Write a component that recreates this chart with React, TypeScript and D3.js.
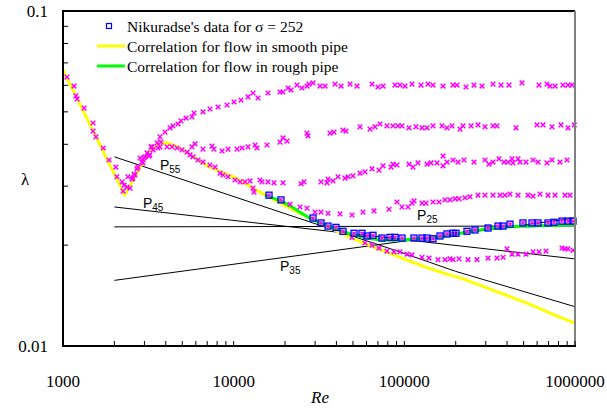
import React from "react";
import * as d3 from "d3";

type Pt = [number, number];

// Nikuradse data (Re, lambda)
const LAMINAR_TRANSITION: Pt[] = [
  [1055, 0.0635], [1160, 0.0597], [1190, 0.0558], [1210, 0.0546], [1330, 0.0513],
  [1500, 0.0463], [1500, 0.0438], [1560, 0.0421], [1720, 0.039], [1860, 0.0359],
  [2040, 0.0342], [2070, 0.032], [2220, 0.0309], [2250, 0.029], [2280, 0.0302],
  [2370, 0.0298], [2400, 0.032], [2470, 0.0296], [2540, 0.0315], [2570, 0.0317],
  [2610, 0.0326], [2640, 0.0324], [2710, 0.0338], [2750, 0.0342], [2830, 0.0364],
  [2900, 0.0354], [2940, 0.0352], [2980, 0.0364], [3020, 0.0367], [3110, 0.0377],
  [3190, 0.0369], [3230, 0.0372], [3280, 0.0393], [3320, 0.0393], [3370, 0.0385],
  [3560, 0.0404], [3600, 0.039], [3700, 0.0393], [3750, 0.0406], [4070, 0.0393],
  [4350, 0.0393], [4660, 0.039], [4980, 0.0385], [5330, 0.0379], [5550, 0.0372],
  [5780, 0.0367], [6180, 0.0359], [6610, 0.0354], [7270, 0.0347], [7780, 0.0342],
  [8320, 0.0328], [8660, 0.0324], [9270, 0.032], [10180, 0.0313], [10900, 0.0309],
  [11650, 0.0309], [12470, 0.0311], [12980, 0.0296], [13160, 0.0288], [14660, 0.0309],
];

const SERIES_15: Pt[] = [
  [3700, 0.0421], [3960, 0.0435], [4240, 0.0448], [4410, 0.0454], [4720, 0.046],
  [4910, 0.047], [5260, 0.0479], [5700, 0.0483], [5860, 0.0496], [6610, 0.05],
  [7270, 0.051], [8100, 0.0517], [9140, 0.0524], [10050, 0.0535], [11040, 0.0542],
  [12130, 0.0554], [12980, 0.0569], [13890, 0.055], [15890, 0.0569], [18690, 0.0573],
  [19450, 0.0573], [20820, 0.0589], [21670, 0.0581], [23500, 0.0601], [25140, 0.0589],
  [26900, 0.0597], [27640, 0.0605], [29170, 0.061], [32060, 0.0597], [34290, 0.0597],
  [39240, 0.0605], [42550, 0.0597], [48050, 0.0605], [52800, 0.0597], [64650, 0.0605],
  [70100, 0.0593], [74990, 0.0597], [88170, 0.0601], [94320, 0.0601], [100900, 0.0597],
  [110900, 0.0605], [125200, 0.0601], [137600, 0.0605], [147200, 0.0601], [168500, 0.0597],
  [192800, 0.0601], [203500, 0.0601], [229800, 0.0593], [256000, 0.0601], [285100, 0.0597],
  [330800, 0.0605], [368600, 0.0601], [410500, 0.0601], [489100, 0.061], [615300, 0.0601],
  [685400, 0.0605], [713800, 0.0597], [763600, 0.0597], [850500, 0.0601], [909900, 0.0601],
  [960300, 0.0601],
];

const SERIES_30: Pt[] = [
  [5700, 0.0393], [5940, 0.0401], [6610, 0.0387], [7460, 0.0395], [7670, 0.0387],
  [8550, 0.0382], [9270, 0.0387], [10460, 0.0387], [11190, 0.039], [12130, 0.0393],
  [13340, 0.0398], [13700, 0.039], [15680, 0.0398], [18690, 0.0406], [19450, 0.0418],
  [20540, 0.0409], [26900, 0.0432], [27270, 0.0424], [36680, 0.0432], [38710, 0.0435],
  [43710, 0.0441], [45520, 0.0438], [55000, 0.0451], [62930, 0.0444], [67320, 0.0451],
  [72010, 0.046], [79150, 0.0454], [85810, 0.0454], [91810, 0.0454], [96890, 0.0454],
  [106500, 0.0448], [117000, 0.0451], [126900, 0.0448], [135800, 0.0448], [147200, 0.0454],
  [166200, 0.0454], [177800, 0.0448], [190200, 0.0454], [211900, 0.0444], [220700, 0.0454],
  [245900, 0.0454], [270200, 0.0457], [296900, 0.0451], [330800, 0.0454], [349100, 0.0454],
  [451100, 0.0448], [598900, 0.0457], [649400, 0.0457], [733300, 0.0451], [827900, 0.0457],
  [909900, 0.0448], [990000, 0.0457],
];

const SERIES_60: Pt[] = [
  [14270, 0.0313], [15890, 0.0309], [17230, 0.0307], [19450, 0.0307], [24800, 0.0305],
  [25830, 0.0309], [32490, 0.0309], [35230, 0.0307], [35710, 0.0315], [38190, 0.0311],
  [40860, 0.032], [44910, 0.0317], [46770, 0.032], [50030, 0.0322], [55000, 0.0328],
  [58820, 0.0331], [64650, 0.0338], [71050, 0.0335], [74990, 0.0345], [83540, 0.0342],
  [85810, 0.0349], [90570, 0.0347], [106500, 0.0349], [112400, 0.0342], [120200, 0.0352],
  [135800, 0.0349], [143300, 0.0352], [155400, 0.0352], [168500, 0.0369], [168500, 0.0345],
  [177800, 0.0354], [192800, 0.0359], [206300, 0.0354], [223700, 0.0359], [256000, 0.0354],
  [296900, 0.0359], [313400, 0.0349], [330800, 0.0354], [358700, 0.0362], [383700, 0.0354],
  [405000, 0.0354], [427400, 0.0362], [433200, 0.0352], [463400, 0.0362], [476100, 0.0354],
  [516200, 0.0354], [567400, 0.0359], [607100, 0.0354], [685400, 0.0352], [733300, 0.0359],
  [816900, 0.0354], [897600, 0.0359],
];

const SERIES_126: Pt[] = [
  [21380, 0.0265], [24470, 0.026], [26900, 0.0258], [29970, 0.0251], [32490, 0.0251],
  [35710, 0.0249], [41980, 0.0248], [49360, 0.0246], [57260, 0.0251], [66420, 0.0253],
  [81310, 0.0256], [90570, 0.0269], [96890, 0.026], [105100, 0.026], [110900, 0.0267],
  [113900, 0.0271], [126900, 0.0267], [134000, 0.0267], [147200, 0.0269], [159600, 0.0269],
  [173100, 0.0273], [185100, 0.0273], [198100, 0.0275], [209100, 0.0275], [226700, 0.0277],
  [242500, 0.0279], [270200, 0.0282], [296900, 0.0282], [330800, 0.0282], [363600, 0.0282],
  [388900, 0.0282], [416100, 0.0284], [463400, 0.0282], [530300, 0.0282], [567400, 0.028],
  [623700, 0.0284], [694700, 0.0282], [763600, 0.0282], [873700, 0.0282], [934800, 0.0282],
];

const SERIES_252: Pt[] = [
  [16110, 0.0282], [18940, 0.0273], [29170, 0.0241], [32490, 0.0233], [35710, 0.0228],
  [39770, 0.0226], [43710, 0.022], [50710, 0.0217], [56490, 0.0217], [60430, 0.0213],
  [65530, 0.0214], [73970, 0.021], [82410, 0.0211], [88170, 0.0211], [96890, 0.021],
  [113900, 0.021], [126900, 0.021], [135800, 0.021], [147200, 0.0209], [161800, 0.0213],
  [177800, 0.0216], [192800, 0.0217], [200800, 0.0217], [232900, 0.022], [259400, 0.0222],
  [309200, 0.0225], [353900, 0.0228], [378600, 0.0228], [416100, 0.0231], [495700, 0.0233],
  [559800, 0.0233], [607100, 0.0233], [694700, 0.0233], [753400, 0.0234], [839100, 0.0236],
  [909900, 0.0236], [973400, 0.0236],
];

const SERIES_507: Pt[] = [
  [49360, 0.0211], [58820, 0.0203], [64650, 0.02], [71050, 0.0196], [79150, 0.0192],
  [86980, 0.0191], [94320, 0.0191], [103700, 0.0188], [110900, 0.0187], [126900, 0.0184],
  [139500, 0.0183], [157500, 0.0181], [173100, 0.0181], [185100, 0.0182], [192800, 0.0181],
  [209100, 0.0182], [236100, 0.0181], [266500, 0.0181], [309200, 0.0183], [349100, 0.0183],
  [378600, 0.0184], [399500, 0.0195], [427400, 0.0188], [463400, 0.0188], [516200, 0.0188],
  [567400, 0.0191], [615300, 0.0191], [676300, 0.0192], [839100, 0.0196], [873700, 0.0195],
  [909900, 0.0195], [973400, 0.0193],
];

// Correlation curves
const SMOOTH_LAMINAR: Pt[] = [[1000, 0.0667], [2300, 0.0282]];
const SMOOTH_PIPE: Pt[] = [
  [2300, 0.0282], [2710, 0.0328], [3150, 0.0377], [3460, 0.0393],
  [3960, 0.0404], [4660, 0.0393], [7270, 0.0342], [9910, 0.032], [14270, 0.0288],
  [24470, 0.0249], [48050, 0.0211], [94320, 0.0184], [147200, 0.0169], [232900, 0.0157],
  [363600, 0.0144], [567400, 0.0132], [780000, 0.0123], [1000000, 0.0117],
];

const ROUGH_PIPE: Pt[] = [
  [15270, 0.0282], [20000, 0.0267], [28770, 0.0239], [37680, 0.0226], [44910, 0.0219],
  [53510, 0.0213], [64650, 0.0209], [77030, 0.0207], [91810, 0.0207], [115500, 0.0209],
  [147200, 0.021], [232900, 0.0219], [363600, 0.0226], [567400, 0.0228], [1000000, 0.023],
];

const P_LINES: { label: string; sub: string; pts: Pt[]; at: Pt }[] = [
  { label: "P", sub: "55", pts: [[2000, 0.0367], [94000, 0.0191], [200000, 0.0167], [1000000, 0.0131]], at: [3700, 0.0335] },
  { label: "P", sub: "45", pts: [[2000, 0.026], [1000000, 0.0182]], at: [2940, 0.0258] },
  { label: "P", sub: "35", pts: [[2000, 0.0157], [1000000, 0.0241]], at: [18690, 0.0168] },
  { label: "P", sub: "25", pts: [[2000, 0.02268], [1000000, 0.02282]], at: [118700, 0.0238] },
];

const X_LABELS = [1000, 10000, 100000, 1000000];
const Y_LABELS = [0.1, 0.01];

const LEGEND = [
  "Nikuradse's data for \u03c3 = 252",
  "Correlation for flow in smooth pipe",
  "Correlation for flow in rough pipe",
];

const W = 607;
const H = 409;
const L = 63, R = 575, T = 11, B = 346;

export default function App() {
  const x = d3.scaleLog().domain([1000, 1000000]).range([L, R]);
  const y = d3.scaleLog().domain([0.01, 0.1]).range([B, T]);
  const line = d3
    .line<Pt>()
    .x((d) => x(d[0]))
    .y((d) => y(d[1]))
    .curve(d3.curveMonotoneX);
  const straight = d3
    .line<Pt>()
    .x((d) => x(d[0]))
    .y((d) => y(d[1]));

  const xt = x.ticks();
  const yt = y.ticks();
  const serif = "'Liberation Serif', 'Times New Roman', serif";
  const sans = "'Liberation Sans', Arial, sans-serif";
  const xMark = (px: number, py: number, s: number, key: string) => (
    <path
      key={key}
      d={`M${px - s},${py - s}L${px + s},${py + s}M${px - s},${py + s}L${px + s},${py - s}`}
      stroke="#FF00FF"
      strokeWidth={1.5}
      fill="none"
    />
  );
  const allX = [
    ...LAMINAR_TRANSITION,
    ...SERIES_15,
    ...SERIES_30,
    ...SERIES_60,
    ...SERIES_126,
    ...SERIES_507,
  ];

  return (
    <svg
      width={W}
      height={H}
      style={{ position: "absolute", left: 0, top: 0, background: "#fff" }}
    >
      <rect x={0} y={0} width={W} height={H} fill="#fff" />
      {/* P lines */}
      {P_LINES.map((p, i) => (
        <path key={"p" + i} d={straight(p.pts) || ""} stroke="#000" strokeWidth={1} fill="none" />
      ))}
      {/* correlations */}
      <path
        d={(straight(SMOOTH_LAMINAR) || "") + (line(SMOOTH_PIPE) || "").replace(/^M/, "L")}
        stroke="#FFFF00"
        strokeWidth={3}
        strokeLinejoin="round"
        fill="none"
      />
      <path d={line(ROUGH_PIPE) || ""} stroke="#00FF00" strokeWidth={3} fill="none" />

      {/* magenta data */}
      {allX.map((d, i) => xMark(x(d[0]), y(d[1]), 2.3, "m" + i))}
      {SERIES_252.map((d, i) => xMark(x(d[0]), y(d[1]), 1.6, "b" + i))}
      {SERIES_252.map((d, i) => (
        <rect
          key={"s" + i}
          x={x(d[0]) - 3}
          y={y(d[1]) - 3}
          width={6}
          height={6}
          fill="none"
          stroke="#0000FF"
          strokeWidth={1.3}
        />
      ))}

      {/* P labels */}
      {P_LINES.map((p, i) => (
        <text key={"pl" + i} x={x(p.at[0])} y={y(p.at[1])} fontFamily={sans} fontSize={14} fill="#000">
          {p.label}
          <tspan fontSize={10} dy={3}>{p.sub}</tspan>
        </text>
      ))}

      {/* frame */}
      <line x1={L} x2={R} y1={T} y2={T} stroke="#000" strokeWidth={2} />
      <line x1={R} x2={R} y1={T} y2={B} stroke="#808080" strokeWidth={2} />
      {/* ticks */}
      {xt.map((t, i) => (
        <line key={"xt" + i} x1={x(t)} x2={x(t)} y1={B} y2={B - 5} stroke="#000" strokeWidth={1} />
      ))}
      {yt.map((t, i) => (
        <line key={"yt" + i} x1={L} x2={L + 5} y1={y(t)} y2={y(t)} stroke="#000" strokeWidth={1} />
      ))}
      <line x1={L} x2={L} y1={T - 1} y2={B + 1} stroke="#000" strokeWidth={2} />
      <line x1={L - 1} x2={R + 1} y1={B} y2={B} stroke="#000" strokeWidth={2} />

      {/* tick labels */}
      {X_LABELS.map((t, i) => (
        <text key={"xl" + i} x={x(t)} y={387} textAnchor="middle" fontFamily={serif} fontSize={17}>
          {String(t)}
        </text>
      ))}
      {Y_LABELS.map((t, i) => (
        <text key={"yl" + i} x={48} y={y(t) + 6} textAnchor="end" fontFamily={serif} fontSize={17}>
          {String(t)}
        </text>
      ))}
      <text x={320} y={403} textAnchor="middle" fontFamily={serif} fontSize={17} fontStyle="italic">
        Re
      </text>
      <text x={25} y={185} textAnchor="middle" fontFamily={serif} fontSize={17}>
        {"\u03bb"}
      </text>

      {/* legend */}
      <rect x={106.5} y={23.5} width={5} height={5} fill="#fff" stroke="#0000FF" strokeWidth={1.2} />
      <line x1={97} x2={125} y1={46} y2={46} stroke="#FFFF00" strokeWidth={3} />
      <line x1={97} x2={125} y1={66} y2={66} stroke="#00FF00" strokeWidth={3} />
      {LEGEND.map((s, i) => (
        <text key={"lg" + i} x={127} y={32 + i * 20} fontFamily={serif} fontSize={15.5} fill="#000">
          {s}
        </text>
      ))}
    </svg>
  );
}
